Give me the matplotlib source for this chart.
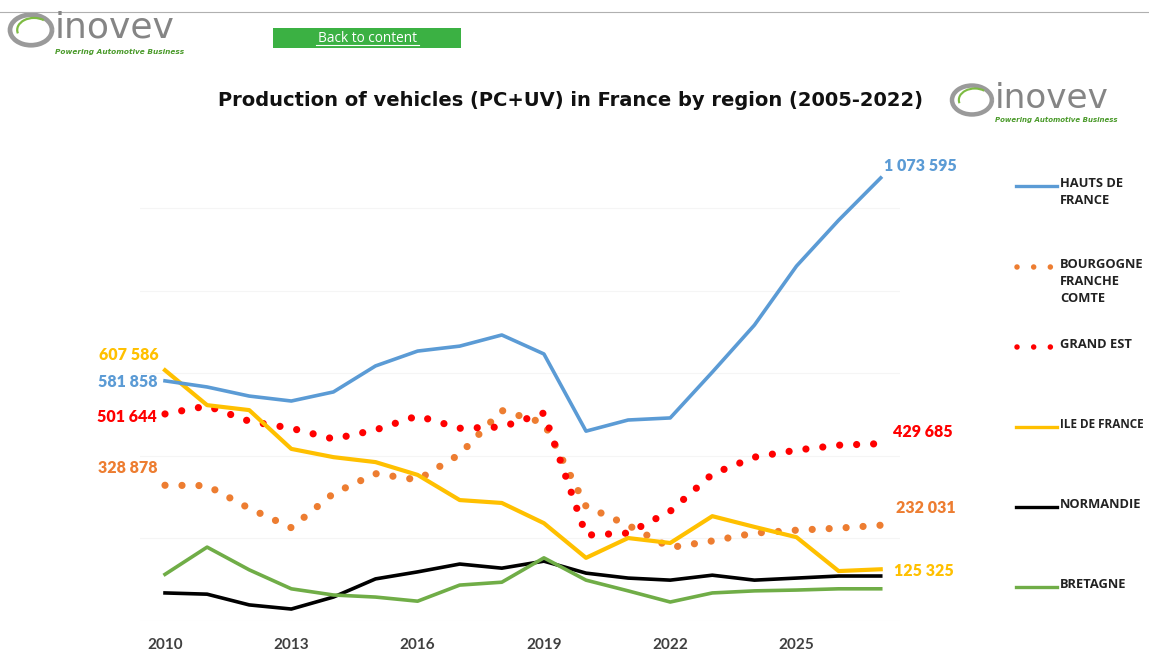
import matplotlib
matplotlib.use("Agg")
import matplotlib.pyplot as plt
from matplotlib.lines import Line2D
from matplotlib.patches import Rectangle, Arc

# ---------------- data ----------------
years = list(range(2010, 2028))
tick_years = [2010, 2013, 2016, 2019, 2022, 2025]

hauts_de_france = [581858, 567000, 545000, 533000, 555000, 618000, 654000, 666000, 693000,
                   647000, 460000, 487000, 492000, 603000, 717000, 860000, 971000, 1073595]
bourgogne_fc = [328878, 328000, 273000, 226000, 309000, 357000, 342000, 404000, 510000,
                480000, 278000, 232000, 178000, 194000, 213000, 220000, 225000, 232031]
grand_est = [501644, 521000, 484000, 467000, 441000, 463000, 497000, 467000, 470000,
             504000, 208000, 213000, 266000, 356000, 397000, 414000, 426000, 429685]
ile_de_france = [607586, 523000, 511000, 417000, 397000, 385000, 354000, 293000, 286000,
                 237000, 153000, 201000, 189000, 254000, 228000, 203000, 121000, 125325]
normandie = [68000, 65000, 39000, 29000, 58000, 102000, 119000, 138000, 128000,
             145000, 116000, 104000, 99000, 111000, 99000, 104000, 109000, 109000]
bretagne = [113000, 179000, 124000, 78000, 63000, 58000, 48000, 87000, 94000,
            153000, 99000, 73000, 46000, 68000, 73000, 75000, 78000, 78000]

series_names = ["HAUTS DE\nFRANCE", "BOURGOGNE\nFRANCHE\nCOMTE", "GRAND EST",
                "ILE DE FRANCE", "NORMANDIE", "BRETAGNE"]

title = "Production of vehicles (PC+UV) in France by region (2005-2022)"

# ---------------- styles ----------------
C_BLUE = "#5B9BD5"
C_ORANGE = "#ED7D31"
C_RED = "#FF0000"
C_YELLOW = "#FFC000"
C_BLACK = "#000000"
C_GREEN = "#70AD47"

W, H = 1149, 662
fig = plt.figure(figsize=(W / 100, H / 100), dpi=100)
fig.patch.set_facecolor("white")


def fx(px):
    return px / W


def fy(py):
    return 1 - py / H


# axes placement (pixel coords from top-left)
ax_l, ax_r, ax_t, ax_b = 140, 900, 167, 621
ax = fig.add_axes([fx(ax_l), fy(ax_b), fx(ax_r - ax_l), (ax_b - ax_t) / H])
ax.set_xlim(2009.406, 2027.458)
ax.set_ylim(0, 1100000)
for s in ax.spines.values():
    s.set_visible(False)
ax.set_yticks([0, 200000, 400000, 600000, 800000, 1000000])
ax.set_yticklabels([])
ax.tick_params(axis="y", length=0)
ax.grid(axis="y", color="#f5f5f5", linewidth=0.8)
ax.set_axisbelow(True)
ax.set_xticks(tick_years)
ax.set_xticklabels([str(y) for y in tick_years], fontfamily="Lato",
                   fontweight="bold", fontsize=11, color="#404040")
ax.tick_params(axis="x", length=0, pad=12)

solid_lw = 2.6
dot_lw = 5.2
dot_style = (0, (0.001, 2.35))

ax.plot(years, normandie, color=C_BLACK, lw=solid_lw, solid_joinstyle="round")
ax.plot(years, bretagne, color=C_GREEN, lw=solid_lw, solid_joinstyle="round")
ax.plot(years, bourgogne_fc, color=C_ORANGE, lw=dot_lw, linestyle=dot_style,
        dash_capstyle="round")
ax.plot(years, grand_est, color=C_RED, lw=dot_lw, linestyle=dot_style,
        dash_capstyle="round")
ax.plot(years, ile_de_france, color=C_YELLOW, lw=solid_lw + 0.4, solid_joinstyle="round")
ax.plot(years, hauts_de_france, color=C_BLUE, lw=solid_lw, solid_joinstyle="round")


def fmt(v):
    return f"{v:,}".replace(",", " ")


lab_kw = dict(fontfamily="Lato", fontweight="heavy", fontsize=11.5,
              textcoords="offset pixels", va="center")
# start labels
ax.annotate(fmt(ile_de_france[0]), (years[0], ile_de_france[0]), xytext=(-6, 15),
            ha="right", color=C_YELLOW, **lab_kw)
ax.annotate(fmt(hauts_de_france[0]), (years[0], hauts_de_france[0]), xytext=(-8, -1),
            ha="right", color=C_BLUE, **lab_kw)
ax.annotate(fmt(grand_est[0]), (years[0], grand_est[0]), xytext=(-8, -3),
            ha="right", color=C_RED, **lab_kw)
ax.annotate(fmt(bourgogne_fc[0]), (years[0], bourgogne_fc[0]), xytext=(-8, 17),
            ha="right", color=C_ORANGE, **lab_kw)
# end labels
ax.annotate(fmt(hauts_de_france[-1]), (years[-1], hauts_de_france[-1]), xytext=(3, 12),
            ha="left", color=C_BLUE, **lab_kw)
ax.annotate(fmt(grand_est[-1]), (years[-1], grand_est[-1]), xytext=(12, 12),
            ha="left", color=C_RED, **lab_kw)
ax.annotate(fmt(bourgogne_fc[-1]), (years[-1], bourgogne_fc[-1]), xytext=(15, 17),
            ha="left", color=C_ORANGE, **lab_kw)
ax.annotate(fmt(ile_de_france[-1]), (years[-1], ile_de_france[-1]), xytext=(13, -2),
            ha="left", color=C_YELLOW, **lab_kw)

# ---------------- legend (manual) ----------------
leg_colors = [C_BLUE, C_ORANGE, C_RED, C_YELLOW, C_BLACK, C_GREEN]
leg_dotted = [False, True, True, False, False, False]
leg_y = [186, 267, 347, 427, 507, 587]
leg_size = [9.3, 9.3, 9.3, 8.5, 9.3, 9.3]
for name, col, dotted, y, fs in zip(series_names, leg_colors, leg_dotted, leg_y, leg_size):
    if dotted:
        fig.add_artist(Line2D([fx(1017), fx(1051)], [fy(y), fy(y)], color=col,
                              lw=4.0, linestyle=(0, (0.001, 3.0)),
                              dash_capstyle="round"))
    else:
        fig.add_artist(Line2D([fx(1016), fx(1057)], [fy(y), fy(y)], color=col,
                              lw=2.4))
    fig.text(fx(1060), fy(y - 9), name, ha="left", va="top", fontfamily="Open Sans",
             fontweight="bold", fontsize=fs, color="#222222", linespacing=1.42)

# ---------------- title ----------------
fig.text(fx(570), fy(100), title, ha="center", va="center", fontfamily="DejaVu Sans",
         fontweight="bold", fontsize=14.0, color="#111111")

# ---------------- header: rule, logos, button ----------------
fig.add_artist(Line2D([0, 1], [fy(12), fy(12)], color="#b0b0b0", lw=0.8))


def logo(x0, y0, scale=1.0):
    r = 21 * scale
    cx, cy = x0 + r, y0
    fig.add_artist(Arc((fx(cx), fy(cy)), 2 * r / W, 1.45 * r / H, theta1=0,
                       theta2=360, color="#9a9a9a", lw=3.4 * scale))
    fig.add_artist(Arc((fx(cx + 3 * scale), fy(cy)), 1.6 * r / W, 1.15 * r / H,
                       theta1=60, theta2=200, color="#7dbb42", lw=1.6 * scale))
    fig.text(fx(x0 + 2 * r + 3 * scale), fy(cy + 8 * scale), "inovev", ha="left",
             va="baseline", fontfamily="DejaVu Sans", fontweight="normal",
             fontsize=26 * scale, color="#858585")
    fig.text(fx(x0 + 2 * r + 3 * scale), fy(cy + 21.5 * scale),
             "Powering Automotive Business", ha="left", va="center",
             fontfamily="DejaVu Sans", fontweight="bold", style="italic",
             fontsize=5.3 * scale, color="#4a9a2a")


logo(10, 30, 1.0)
logo(952, 100, 0.95)

fig.add_artist(Rectangle((fx(273), fy(48)), fx(188), 20 / H, facecolor="#3bb143",
                         edgecolor="none", transform=fig.transFigure))
fig.text(fx(367), fy(38), "Back to content", ha="center", va="center",
         fontfamily="Open Sans", fontsize=9.8, color="white")
fig.add_artist(Line2D([fx(316), fx(419)], [fy(45), fy(45)], color="white", lw=0.8))

fig.savefig("out.png", dpi=100, facecolor="white")
